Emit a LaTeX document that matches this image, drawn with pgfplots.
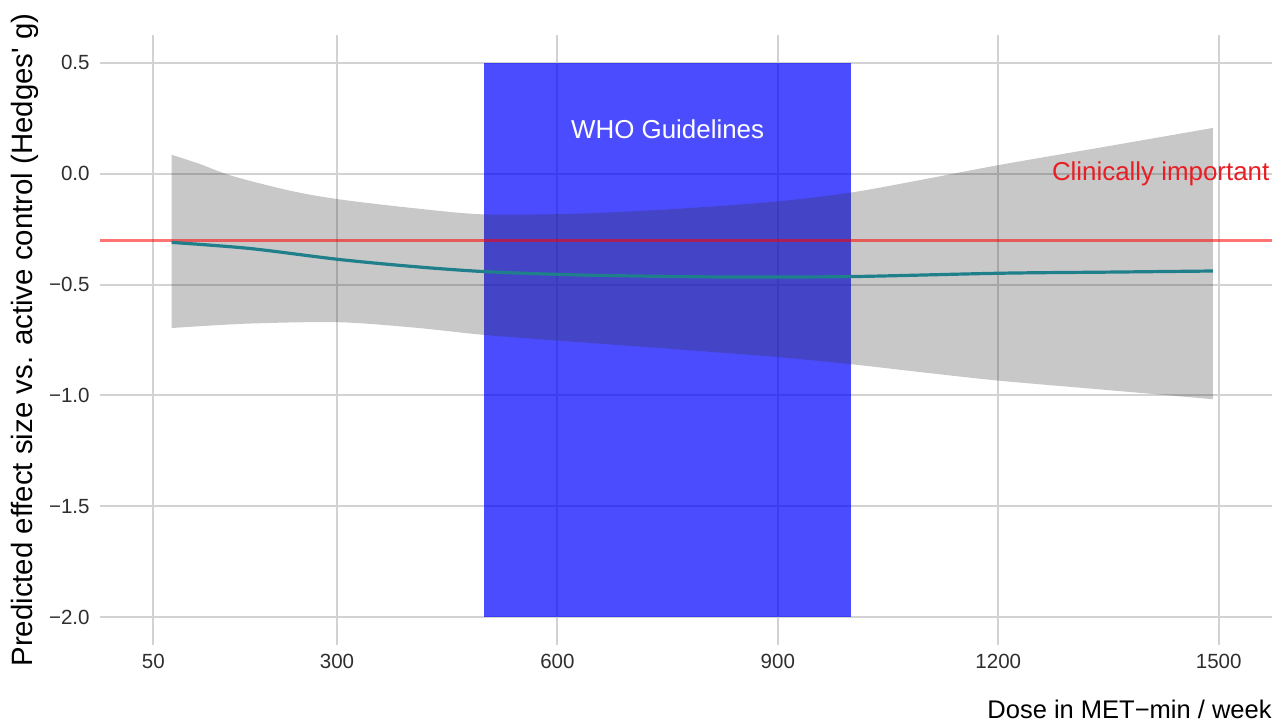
\documentclass[border=0pt]{standalone}
\usepackage{fontspec}
\setmainfont{Liberation Sans}
\usepackage{pgfplots}
\pgfplotsset{compat=1.18}
\usepgfplotslibrary{fillbetween}
\definecolor{teal1}{RGB}{31,128,140}
\definecolor{grid1}{RGB}{210,210,210}
\definecolor{red1}{RGB}{232,30,36}
\begin{document}
\begin{tikzpicture}
\begin{axis}[
  scale only axis, width=586bp, height=305bp,
  xmin=-22.5, xmax=1572.5, ymin=-2.125, ymax=0.625,
  xtick={50,300,600,900,1200,1500},
  xticklabels={50,300,600,900,1200,1500},
  ytick={-2,-1.5,-1,-0.5,0,0.5},
  yticklabels={−2.0,−1.5,−1.0,−0.5,0.0,0.5},
  axis line style={draw=none}, tick style={draw=none},
  grid=major, major grid style={grid1, line width=1bp},
  ticklabel style={font=\fontsize{10.3}{12}\selectfont, text=black!82},
  xticklabel style={inner sep=0pt, anchor=north, yshift=-4.4bp},
  yticklabel style={inner sep=0pt, anchor=east, xshift=-5bp},
  xlabel={Dose in MET−min / week},
  xlabel style={at={(axis description cs:1,0)}, anchor=base east, yshift=-36.5bp, inner sep=0pt, font=\fontsize{12.8}{14}\selectfont},
  ylabel={Predicted effect size vs. active control (Hedges\textquotesingle\ g)},
  ylabel style={at={(axis description cs:-0.0644,0.5)}, anchor=center, rotate=0, inner sep=0pt, font=\fontsize{14.75}{17}\selectfont},
  clip=false,
  fill between/on layer=main,
]
\coordinate (ll) at (rel axis cs:0,0);
\coordinate (ur) at (rel axis cs:1,1);
% WHO guideline rectangle
\addplot[draw=none, fill=blue, fill opacity=0.7] coordinates {(500,-2) (1000,-2) (1000,0.5) (500,0.5)} -- cycle;
% confidence band
\addplot[name path=U, draw=none, smooth, forget plot] coordinates {
 (75,0.085) (112,0.045) (157,-0.01) (235,-0.076) (303,-0.116) (408,-0.157) (502,-0.184)
 (630,-0.18) (766,-0.158) (903,-0.124) (1002,-0.084) (1100,-0.025) (1203,0.04) (1350,0.124) (1492,0.206)};
\addplot[name path=L, draw=none, smooth, forget plot] coordinates {
 (75,-0.696) (180,-0.676) (303,-0.67) (408,-0.695) (503,-0.728) (630,-0.76) (766,-0.793) (903,-0.828)
 (1002,-0.86) (1100,-0.897) (1203,-0.934) (1350,-0.976) (1492,-1.017)};
\addplot[draw=none, fill=black!80, fill opacity=0.27] fill between[of=U and L];
% clinically important threshold
\addplot[red, line width=1.5bp, opacity=0.55] coordinates {(-22.5,-0.3) (1572.5,-0.3)};
% fitted curve
\addplot[teal1, line width=1.6bp, smooth] coordinates {
 (75,-0.31) (180,-0.337) (303,-0.387) (408,-0.42) (503,-0.442) (630,-0.457) (766,-0.464) (850,-0.466)
 (1002,-0.464) (1203,-0.449) (1350,-0.444) (1492,-0.439)
};
\node[text=white, font=\fontsize{13}{15}\selectfont] at (axis cs:750,0.2) {WHO Guidelines};
\node[text=red1, font=\fontsize{13}{15}\selectfont] at (axis cs:1421,0.0) {Clinically important};
\end{axis}
\pgfresetboundingbox
\path[use as bounding box] ([xshift=-50bp,yshift=-39.5bp]ll) rectangle ([xshift=4.5bp,yshift=17.5bp]ur);
\end{tikzpicture}
\end{document}
